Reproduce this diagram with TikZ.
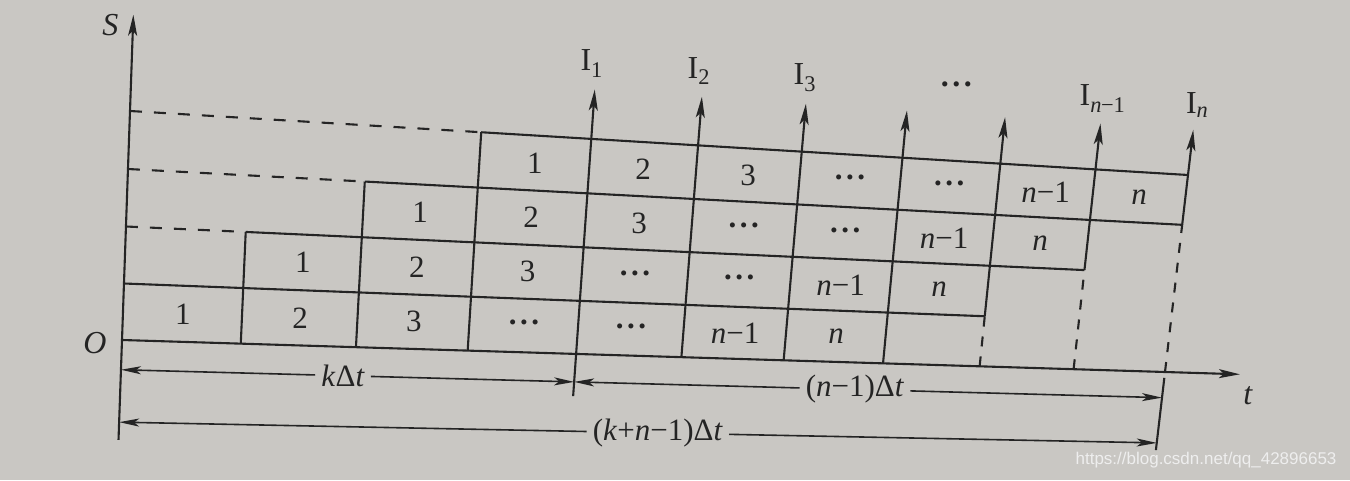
\documentclass[tikz,border=0pt]{standalone}
\usepackage{fontspec}
\setmainfont{Liberation Serif}
\newfontfamily\wmfont{Liberation Sans}
\usetikzlibrary{arrows.meta}
\definecolor{paper}{RGB}{201,199,195}
\definecolor{ink}{RGB}{36,36,36}
\definecolor{wm}{RGB}{238,238,238}
% perspective map from grid units (u = column, v = row) to picture points
\newcommand\hpt[3]{%
 \pgfmathsetmacro\HPs{(#2)/10}%
 \pgfmathsetmacro\HPt{(#3)/4}%
 \pgfmathsetmacro\HPw{1+0.15672*\HPs-0.017585*\HPt}%
 \pgfmathsetmacro\HPx{(1225.58*\HPs+5.714*\HPt+122)/\HPw}%
 \pgfmathsetmacro\HPy{480-(90.30*\HPs-230.95*\HPt+340)/\HPw}%
 \coordinate (#1) at (\HPx,\HPy);%
}
\tikzset{
 ln/.style={ink,line width=2.1pt},
 dsh/.style={ink,line width=2.1pt,dash pattern=on 12pt off 12pt},
 vdsh/.style={ink,line width=2.1pt,dash pattern=on 10pt off 10pt},
 arr/.style={ln,-{Stealth[length=21pt,width=9pt,inset=5pt]}},
 dim/.style={ink,line width=1.6pt,-{Stealth[length=20pt,width=8pt,inset=5pt]}},
 cell/.style={ink,font=\fontsize{31}{36}\selectfont,inner sep=0pt},
 lab/.style={ink,font=\fontsize{32}{36}\selectfont,inner sep=1pt},
 dimlab/.style={ink,font=\fontsize{31}{36}\selectfont,inner sep=6pt},
}
\newcommand\dts{\raisebox{0.22em}{\textbf{.\kern3.5pt.\kern3.5pt.}}}
\begin{document}
\begin{tikzpicture}[x=1pt,y=1pt]
\fill[paper] (0,0) rectangle (1350,480);
\useasboundingbox (0,0) rectangle (1350,480);
% grid points
\foreach \u in {0,...,10}{\foreach \v in {0,...,4}{\hpt{p\u-\v}{\u}{\v}}}
\foreach \u in {4,...,10}{\hpt{a\u}{\u}{4.9}}
\hpt{adots}{7.5}{4.9}
\hpt{ytop}{0}{5.64}
\hpt{ybot}{0}{-1.79}
\hpt{tend}{10.84}{0}
\hpt{cfb}{4}{-0.8}
\hpt{ctena}{10}{-0.12}
\hpt{ctenb}{10}{-1.62}
\hpt{dal}{0}{-0.53}
\hpt{dam}{4}{-0.53}
\hpt{dar}{10}{-0.53}
\hpt{dbl}{0}{-1.47}
\hpt{dbr}{10}{-1.47}
\hpt{lk}{1.9}{-0.53}
\hpt{lnm}{6.74}{-0.53}
\hpt{lkn}{4.83}{-1.47}
% axes
\draw[arr] (ybot) -- (ytop);
\draw[arr] (p0-0) -- (tend);
\node[lab,font=\fontsize{32}{36}\selectfont\itshape] (S) at ([xshift=-23pt,yshift=-10pt]ytop) {S};
\node[lab,font=\fontsize{32}{36}\selectfont\itshape] (O) at ([xshift=-27pt,yshift=-3pt]p0-0) {O};
\node[lab,font=\fontsize{32}{36}\selectfont\itshape] (T) at ([xshift=8pt,yshift=-21pt]tend) {t};
% horizontal lines
\draw[ln] (p0-1) -- (p8-1);
\draw[ln] (p1-2) -- (p9-2);
\draw[ln] (p2-3) -- (p10-3);
\draw[ln] (p3-4) -- (p10-4);
\draw[dsh] (p0-2) -- (p1-2);
\draw[dsh] (p0-3) -- (p2-3);
\draw[dsh] (p0-4) -- (p3-4);
% vertical lines
\draw[ln] (p1-0) -- (p1-2);
\draw[ln] (p2-0) -- (p2-3);
\draw[ln] (p3-0) -- (p3-4);
\draw[arr] (cfb) -- (a4);
\draw[arr] (p5-0) -- (a5);
\draw[arr] (p6-0) -- (a6);
\draw[arr] (p7-0) -- (a7);
\draw[arr] (p8-1) -- (a8);
\draw[arr] (p9-2) -- (a9);
\draw[arr] (p10-3) -- (a10);
\draw[vdsh] (p8-0) -- (p8-1);
\draw[vdsh] (p9-0) -- (p9-2);
\draw[vdsh] (p10-0) -- (p10-3);
\draw[ln] (ctena) -- (ctenb);
% output labels
\node[lab] (I1) at ([yshift=26pt,xshift=-3pt]a4) {I\textsubscript{1}};
\node[lab] (I2) at ([yshift=26pt,xshift=-3pt]a5) {I\textsubscript{2}};
\node[lab] (I3) at ([yshift=26pt,xshift=-1pt]a6) {I\textsubscript{3}};
\node[lab] (Id) at ([yshift=26pt]adots) {\dts};
\node[lab] (In1) at ([yshift=25pt,xshift=2pt]a9) {I\textsubscript{\textit{n}\kern-0.5pt−1}};
\node[lab] (In) at ([yshift=25pt,xshift=4pt]a10) {I\textsubscript{\textit{n}}};
% cell texts
\foreach \r in {0,...,3}{
 \pgfmathsetmacro\vv{\r+0.5}
 \hpt{q\r-0}{\r+0.5}{\vv}\node[cell] at (q\r-0) {1};
 \hpt{q\r-1}{\r+1.5}{\vv}\node[cell] at (q\r-1) {2};
 \hpt{q\r-2}{\r+2.5}{\vv}\node[cell] at (q\r-2) {3};
 \hpt{q\r-3}{\r+3.5}{\vv}\node[cell] at (q\r-3) {\dts};
 \hpt{q\r-4}{\r+4.5}{\vv}\node[cell] at (q\r-4) {\dts};
 \hpt{q\r-5}{\r+5.5}{\vv}\node[cell] at (q\r-5) {\textit{n}−1};
 \hpt{q\r-6}{\r+6.5}{\vv}\node[cell] at (q\r-6) {\textit{n}};
}
% dimension lines
\node[dimlab] (LK) at (lk) {\textit{k}Δ\textit{t}};
\draw[dim] (LK) -- (dal);
\draw[dim] (LK) -- (dam);
\node[dimlab] (LN) at (lnm) {(\textit{n}−1)Δ\textit{t}};
\draw[dim] (LN) -- (dam);
\draw[dim] (LN) -- (dar);
\node[dimlab] (LKN) at (lkn) {(\textit{k}+\textit{n}−1)Δ\textit{t}};
\draw[dim] (LKN) -- (dbl);
\draw[dim] (LKN) -- (dbr);
% watermark
\node[wm,font=\wmfont\fontsize{17}{20}\selectfont,anchor=east] (W) at (1340,20) {https://blog.csdn.net/qq\_42896653};
\end{tikzpicture}
\end{document}
